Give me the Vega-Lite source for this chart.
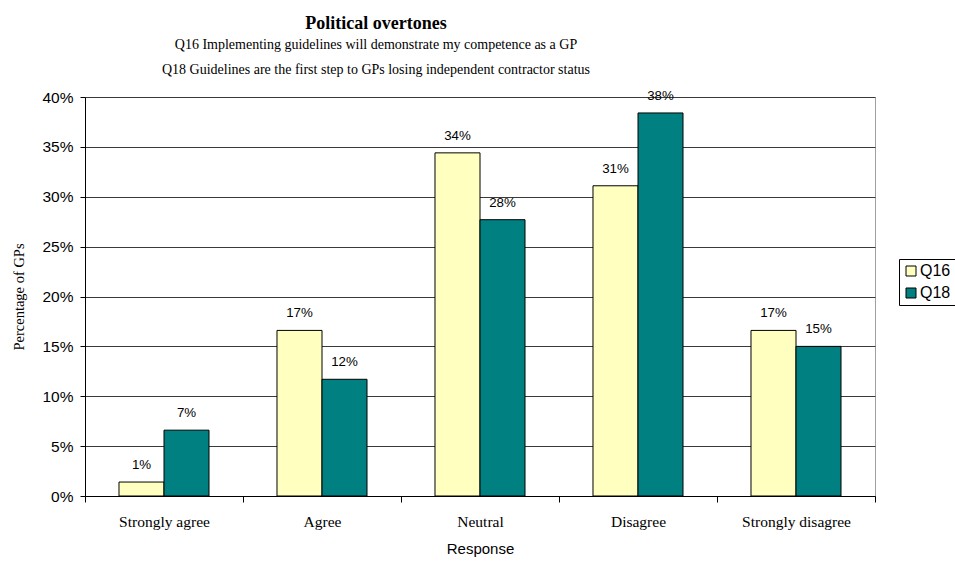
{
  "$schema": "https://vega.github.io/schema/vega-lite/v6.json",
  "width": 790,
  "height": 399,
  "autosize": "none",
  "padding": {"left": 85, "top": 97, "right": 80, "bottom": 66},
  "background": "white",
  "config": {
    "view": {"stroke": "#a0a0a0", "strokeWidth": 1},
    "font": "Liberation Sans"
  },
  "title": {
    "text": "Political overtones",
    "subtitle": [
      "Q16 Implementing guidelines will demonstrate my competence as a GP",
      "Q18 Guidelines are the first step to GPs losing independent contractor status"
    ],
    "anchor": "start",
    "align": "center",
    "dx": 364,
    "font": "Liberation Serif",
    "fontSize": 18,
    "fontWeight": "bold",
    "color": "black",
    "subtitleFont": "Liberation Serif",
    "subtitleFontSize": 14,
    "subtitleColor": "black",
    "subtitleLineHeight": 24.5,
    "subtitlePadding": 5,
    "offset": 12
  },
  "data": {
    "values": [
      {"response": "Strongly agree", "question": "Q16", "pct": 0.014},
      {"response": "Strongly agree", "question": "Q18", "pct": 0.066},
      {"response": "Agree", "question": "Q16", "pct": 0.166},
      {"response": "Agree", "question": "Q18", "pct": 0.117},
      {"response": "Neutral", "question": "Q16", "pct": 0.344},
      {"response": "Neutral", "question": "Q18", "pct": 0.277},
      {"response": "Disagree", "question": "Q16", "pct": 0.311},
      {"response": "Disagree", "question": "Q18", "pct": 0.384},
      {"response": "Strongly disagree", "question": "Q16", "pct": 0.166},
      {"response": "Strongly disagree", "question": "Q18", "pct": 0.150}
    ]
  },
  "encoding": {
    "x": {
      "field": "response",
      "type": "nominal",
      "sort": ["Strongly agree", "Agree", "Neutral", "Disagree", "Strongly disagree"],
      "scale": {"paddingInner": 0, "paddingOuter": 0},
      "axis": {
        "tickBand": "extent",
        "labelAngle": 0,
        "domainColor": "black",
        "tickColor": "black",
        "tickSize": 6,
        "labelFont": "Liberation Serif",
        "labelFontSize": 15.5,
        "labelColor": "black",
        "labelPadding": 12,
        "title": "Response",
        "titleFont": "Liberation Sans",
        "titleFontSize": 15,
        "titleFontWeight": "normal",
        "titleColor": "black",
        "titlePadding": 12
      }
    },
    "xOffset": {
      "field": "question",
      "scale": {"paddingInner": 0, "paddingOuter": 0.755}
    },
    "y": {
      "field": "pct",
      "type": "quantitative",
      "scale": {"domain": [0, 0.4]},
      "axis": {
        "values": [0, 0.05, 0.1, 0.15, 0.2, 0.25, 0.3, 0.35, 0.4],
        "format": ".0%",
        "grid": true,
        "gridColor": "#3a3a3a",
        "gridWidth": 1,
        "domainColor": "black",
        "tickColor": "black",
        "tickSize": 5,
        "labelFont": "Liberation Sans",
        "labelFontSize": 15.5,
        "labelColor": "black",
        "labelPadding": 7,
        "title": "Percentage of GPs",
        "titleFont": "Liberation Serif",
        "titleFontSize": 14.5,
        "titleFontWeight": "normal",
        "titleColor": "black",
        "titlePadding": 15
      }
    }
  },
  "layer": [
    {
      "mark": {"type": "bar", "stroke": "black", "strokeWidth": 1},
      "encoding": {
        "color": {
          "field": "question",
          "type": "nominal",
          "scale": {"domain": ["Q16", "Q18"], "range": ["#FFFFC0", "#008080"]},
          "legend": {
            "title": null,
            "orient": "none",
            "legendX": 814,
            "legendY": 162,
            "symbolType": "square",
            "symbolSize": 100,
            "symbolStrokeColor": "black",
            "symbolStrokeWidth": 1,
            "labelFont": "Liberation Sans",
            "labelFontSize": 16,
            "labelColor": "black",
            "labelOffset": 1,
            "rowPadding": 6,
            "padding": 4,
            "strokeColor": "black",
            "fillColor": "white"
          }
        }
      }
    },
    {
      "mark": {
        "type": "text",
        "baseline": "middle",
        "dy": -17,
        "font": "Liberation Sans",
        "fontSize": 13.3,
        "color": "black"
      },
      "encoding": {
        "text": {"field": "pct", "type": "quantitative", "format": ".0%"}
      }
    }
  ]
}
